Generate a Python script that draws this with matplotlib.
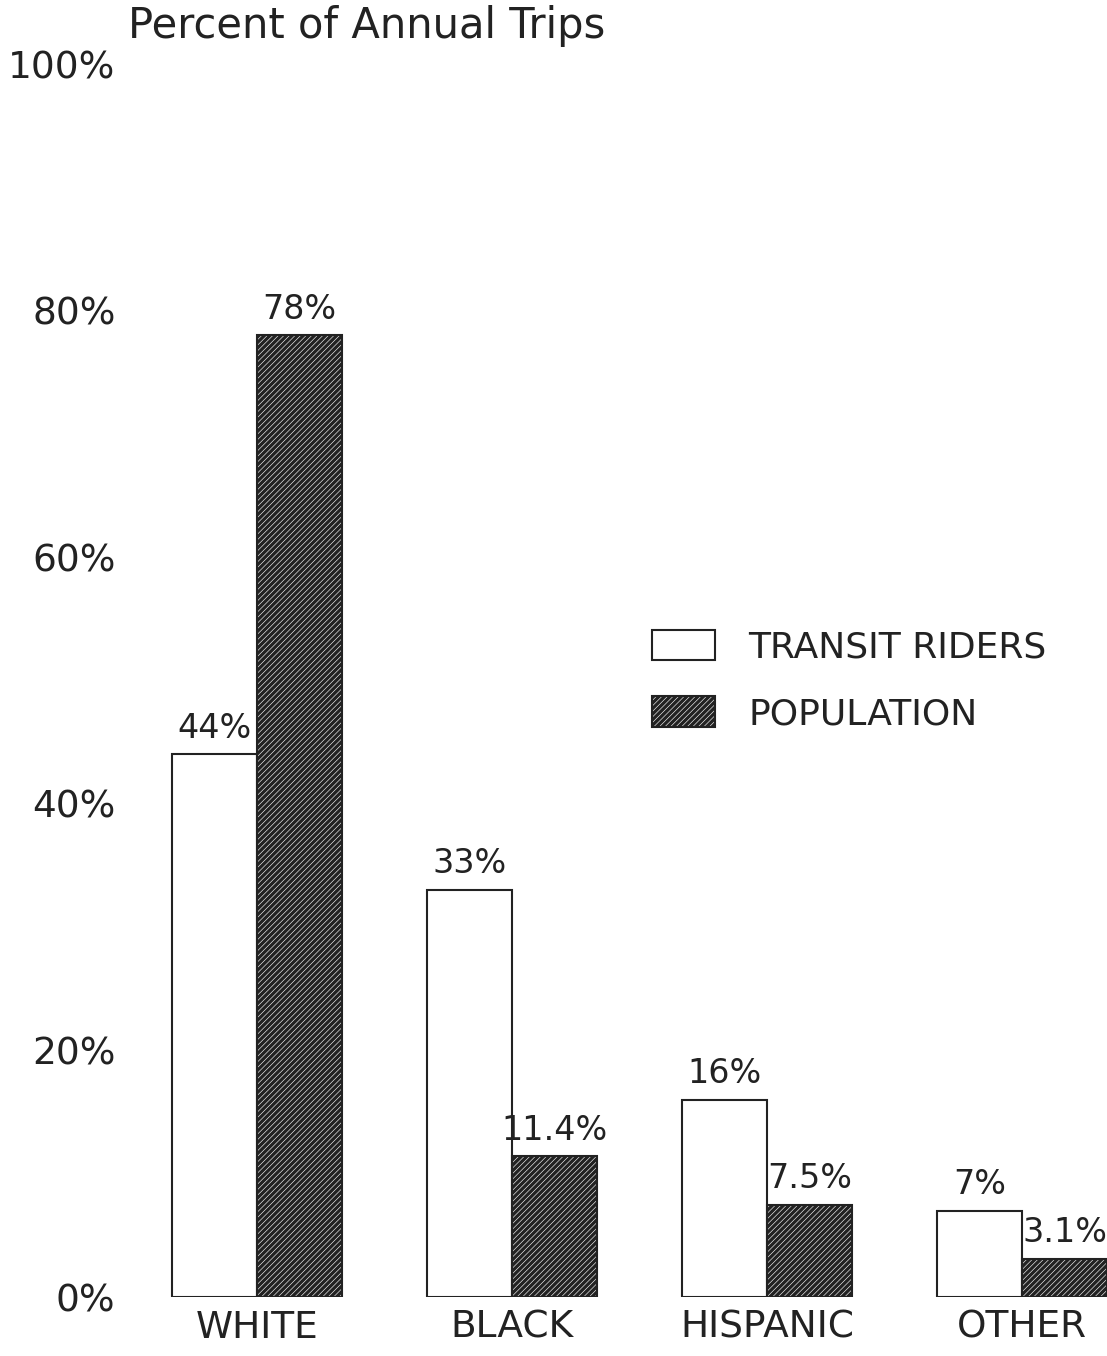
import matplotlib

matplotlib.use("Agg")
import matplotlib.pyplot as plt
import numpy as np

# transit ridership vs. population share by group
groups = ["WHITE", "BLACK", "HISPANIC", "OTHER"]
riders = [44, 33, 16, 7]
population = [78, 11.4, 7.5, 3.1]
rider_labels = ["44%", "33%", "16%", "7%"]
pop_labels = ["78%", "11.4%", "7.5%", "3.1%"]
y_ticks = [0, 20, 40, 60, 80, 100]

plt.rcParams["font.family"] = "DejaVu Sans"
plt.rcParams["hatch.color"] = "#222222"
plt.rcParams["hatch.linewidth"] = 2.4

fig = plt.figure(figsize=(11.07, 13.56), dpi=100)
ax = fig.add_axes([0.11698, 0.04351, 0.88302, 0.90929])

x = np.arange(len(groups))
width = 1 / 3

bars_r = ax.bar(x - width / 2, riders, width, color="white", edgecolor="#222222",
                linewidth=1.5, label="TRANSIT RIDERS")
bars_p = ax.bar(x + width / 2, population, width, color="white", edgecolor="#222222",
                linewidth=1.5, hatch="//////", label="POPULATION")

for bars, labels in ((bars_r, rider_labels), (bars_p, pop_labels)):
    for bar, text in zip(bars, labels):
        ax.annotate(text, (bar.get_x() + bar.get_width() / 2, bar.get_height()),
                    xytext=(0, 7), textcoords="offset points",
                    ha="center", va="bottom", fontsize=24, color="#222222")

ax.set_xlim(-0.5, 10 / 3)
ax.set_ylim(0, 100)
ax.set_yticks(y_ticks)
ax.set_yticklabels([f"{v}%" for v in y_ticks])
ax.set_xticks(x)
ax.set_xticklabels(groups)
ax.tick_params(axis="y", length=0, pad=10, labelsize=27, labelcolor="#222222")
ax.tick_params(axis="x", length=0, pad=9, labelsize=27, labelcolor="#222222")
for spine in ax.spines.values():
    spine.set_visible(False)

fig.text(128 / 1107, 1 - 26 / 1356, "Percent of Annual Trips",
         ha="left", va="center", fontsize=30, color="#222222")

leg = ax.legend(handles=[bars_r, bars_p], loc="upper left",
                bbox_to_anchor=(652 / 1107, 1 - 630 / 1356),
                bbox_transform=fig.transFigure, frameon=False, fontsize=26,
                borderpad=0, borderaxespad=0, handlelength=1.75, handleheight=0.92,
                handletextpad=0.92, labelspacing=0.88)
for t in leg.get_texts():
    t.set_color("#222222")

fig.savefig("out.png", dpi=100, facecolor="white")
